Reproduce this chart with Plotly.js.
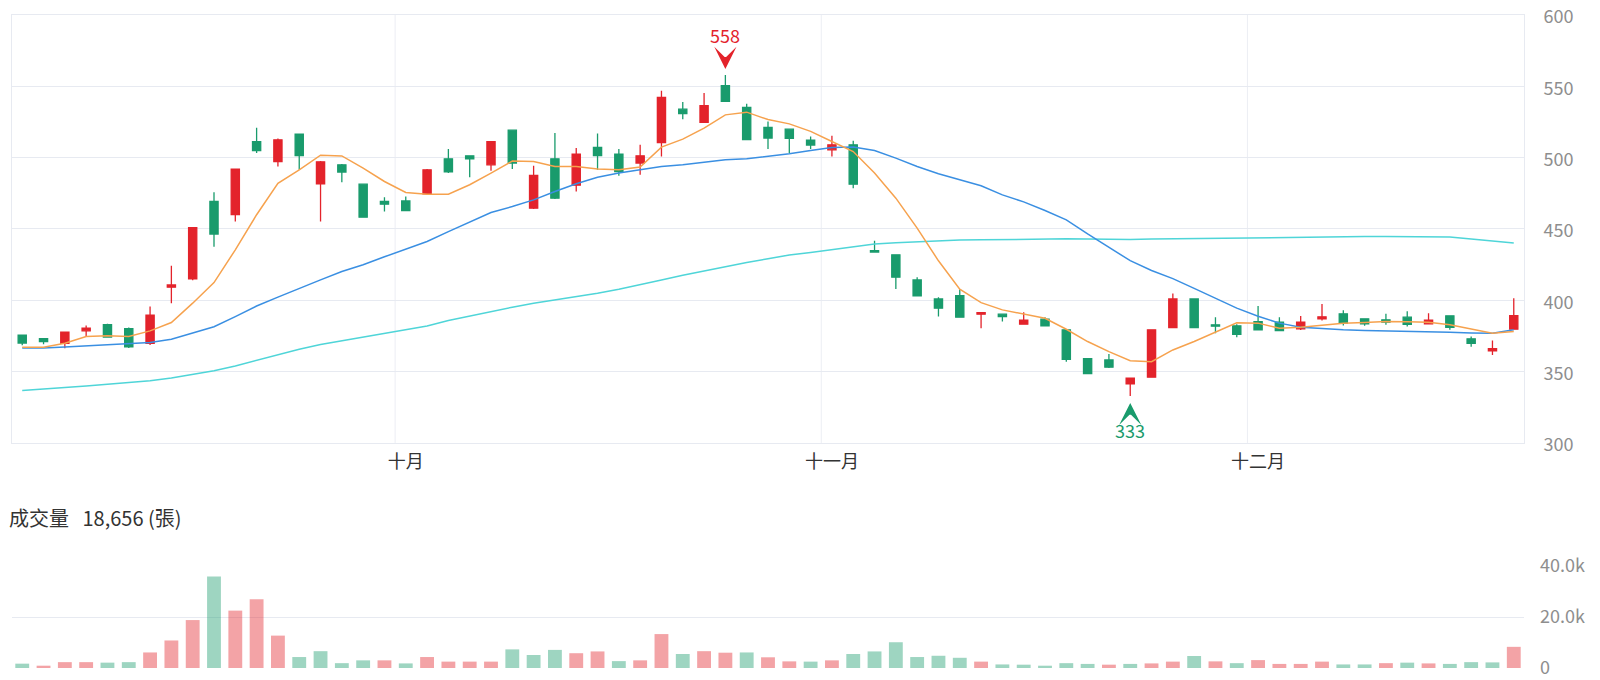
<!DOCTYPE html>
<html><head><meta charset="utf-8">
<script src="https://cdn.plot.ly/plotly-3.0.1.min.js"></script>
<style>html,body{margin:0;padding:0;background:#fff}#chart{width:1600px;height:680px}</style>
</head><body><div id="chart"></div>
<script>
// ---- data ----
const openP  = [375.5,373.2,369.9,378.6,383,380.2,369.9,409.2,415,469.3,460,511.3,497.3,516.5,481.7,495,481.4,469.3,469.7,474.7,499.2,501.3,495,519.3,464.6,499.2,480.7,507.2,502.5,496.2,510.6,534,524.7,550.4,535.2,521.2,520,512.3,505.5,509,434.9,431.9,414.3,401,403.3,390.3,390.3,383.3,386.8,379.3,359.1,358.2,341.4,346.1,380.9,401,382.8,382.1,385.1,384.7,380,387,390.5,387,386.3,388.2,383.5,389.1,373,364.5,379.8];
const highP  = [376,373.5,378,382.3,383.5,381,395.6,424.2,451.2,475.8,492.3,521,513.4,517,497.6,495.5,481.8,472.3,472.8,492,506,501.5,511.5,519.8,494.3,517.2,506.7,517,506,509,546.9,539,545.3,558,537.8,525.4,520.5,514.8,515.3,511.8,441.7,432.3,416.2,402.2,407.8,391.5,390.5,391.7,388.2,379.5,359.3,362.4,345.6,379.5,404.7,401.2,388.2,383.2,396.1,388.2,389,397.5,393.1,387.3,390.5,392.4,391,389.3,374.6,371.8,401.5];
const lowP   = [368.5,369.2,366.4,374.6,374,366.5,368.7,398,414,437.5,455.2,503.2,493.8,491.5,455.2,482.8,457.8,462.2,462.5,474,489.2,486.3,490.8,492,464,471,476.3,491.5,487.3,488,500.8,527,524.5,539,512.5,506,503.2,506,500.8,478.6,433.8,408,403,388.6,388,380.4,385.1,383,382,357,348.4,352.5,333,345.8,380.7,380.7,377,374.1,379,378.5,379.2,385.8,382.3,382.1,382.8,381.6,383.3,379.3,367.5,361.7,379.5];
const closeP = [370,371.1,377.7,380.5,374.3,367.3,389.6,410.8,451,446.4,492,505,512.5,501.5,497.1,489.9,458.3,467.4,462.9,491.5,490.1,499.2,511.3,496.2,487.5,471.6,502.5,501.5,490.3,501.3,542.2,530.8,536.4,539.4,512.7,513.7,513.5,508.8,509,481.4,433.8,416.2,403.1,394.5,388.2,391.4,388.6,386.1,382.1,358.7,348.6,353.1,345.4,379.3,401,380.9,381.9,376.2,379.3,378.8,384.7,388.4,384,383.5,384.7,383.2,386.1,381.1,369.9,366.1,389.3];
const ma5  = [367.1,367.1,369.9,374.6,375.1,374.6,378.6,384.4,398,412.4,435.4,460,482,491.5,501.7,501.2,492.7,483.3,475.6,474.4,474.4,481,489.2,497.6,497.3,493.8,493.8,492,491.5,493.4,507.4,513,520.7,530,531.9,526.7,523.7,518.4,511.3,504.3,489.2,471.6,450.6,427.7,407.8,398.4,393.3,390.4,387.4,379.7,371.1,364,357.7,357,365.2,371.1,377.5,384.2,384,380.5,381.2,382.8,384,384.4,385.1,384.9,384.7,382.8,380,376.9,378.1];
const ma20 = [366.6,366.6,367.3,368,368.7,369.4,370.4,372.7,376.9,381.5,388.6,396,402.2,408.5,414.3,420.2,424.9,430.5,436,441.2,448.2,454.8,461.5,465.7,470.4,476.3,481.7,486.3,489.2,491.5,493.8,495,496.6,498.5,499.2,500.8,502.7,505,507.2,507.4,505,499.7,493.8,488.7,484.5,480.3,473.9,469,463,456.4,446.5,437.4,427.8,420.9,415.2,408.4,401.5,394.5,388.8,384,381.2,380,379.3,378.8,378.6,378.3,378.1,377.6,377.1,376.9,379.3];
const ma60 = [336.7,337.6,338.8,340,341.2,342.3,343.7,345.6,347.9,350.7,354,357.9,362.2,365.7,369,371.5,374.1,376.9,379.3,382,385.8,389.1,392.1,395.2,398,400.3,402.6,405,407.8,410.8,414.3,417.6,420.6,423.7,426.5,429.1,431.7,433.5,435.4,437.7,439.4,440.3,441,441.7,442.2,442.4,442.6,442.9,443.1,443.1,442.9,442.6,442.6,442.9,443.1,443.3,443.6,443.8,443.9,444.3,444.3,444.5,444.7,444.7,444.7,444.7,444.6,444.4,443,441.6,440.1];
const volume = [1700,900,2300,2300,2100,2300,6100,10800,18800,35900,22500,27000,12700,4300,6600,1900,3000,3000,1800,4300,2500,2500,2500,7300,5100,7100,5800,6500,2700,3000,13300,5500,6600,6000,6100,4200,2600,2500,3000,5500,6500,10100,4300,4800,4000,2500,1400,1300,900,1900,1600,1300,1600,1800,2500,4700,2600,1900,3100,1600,1600,2500,1400,1400,1900,2100,1800,1600,2300,2200,8300];
const volUp = [0,1,1,1,0,0,1,1,1,0,1,1,1,0,0,0,0,1,0,1,1,1,1,0,0,0,1,1,0,1,1,0,1,1,0,1,1,0,1,0,0,0,0,0,0,1,0,0,0,0,0,1,0,1,1,0,1,0,1,1,1,1,0,0,1,0,1,0,0,0,1];
const monthStarts = [18, 38, 58];
const monthLabels = ['十月', '十一月', '十二月'];
const priceTicks = [300, 350, 400, 450, 500, 550, 600];
const volTickVals = [0, 20000, 40000];
const volTickText = ['0', '20.0k', '40.0k'];
const volumeTitle = '成交量';
const volumeValue = '18,656 (張)';

// ---- styles ----
const RED = '#e3232b', GREEN = '#199b6c';
const RED_L = 'rgba(227,35,43,0.42)', GREEN_L = 'rgba(25,155,108,0.42)';
const ORANGE = '#f6a24e', BLUE = '#3a8fe2', CYAN = '#4fd5d8';
const GRID = '#e7eaf1';
const FONT = '"Noto Sans CJK TC", "Noto Sans", sans-serif';

const idx = openP.map((_, i) => i);
const hMax = Math.max(...highP), iMax = highP.indexOf(hMax);
const lMin = Math.min(...lowP), iMin = lowP.indexOf(lMin);

const traces = [
  {type: 'scatter', mode: 'lines', x: idx, y: ma60, line: {color: CYAN, width: 1.5}, hoverinfo: 'skip', xaxis: 'x', yaxis: 'y'},
  {type: 'scatter', mode: 'lines', x: idx, y: ma20, line: {color: BLUE, width: 1.5}, hoverinfo: 'skip', xaxis: 'x', yaxis: 'y'},
  {type: 'scatter', mode: 'lines', x: idx, y: ma5, line: {color: ORANGE, width: 1.5}, hoverinfo: 'skip', xaxis: 'x', yaxis: 'y'},
  {type: 'candlestick', x: idx, open: openP, high: highP, low: lowP, close: closeP,
   increasing: {line: {color: RED, width: 1.3}, fillcolor: RED},
   decreasing: {line: {color: GREEN, width: 1.3}, fillcolor: GREEN},
   whiskerwidth: 0, hoverinfo: 'skip', xaxis: 'x', yaxis: 'y'},
  {type: 'bar', x: idx, y: volume, marker: {color: volUp.map(u => u ? RED_L : GREEN_L), line: {width: 0}},
   hoverinfo: 'skip', xaxis: 'x2', yaxis: 'y2'}
];

const xr = [-0.48, idx.length - 1 + 0.48];
const layout = {
  width: 1600, height: 680,
  margin: {l: 12, r: 76, t: 15, b: 12},
  paper_bgcolor: '#fff', plot_bgcolor: '#fff',
  showlegend: false,
  font: {family: FONT, size: 18, color: '#333'},
  boxgap: 0.45, bargap: 0.35,
  xaxis: {anchor: 'y', domain: [0, 1], range: xr, rangeslider: {visible: false},
    tickmode: 'array', tickvals: monthStarts, ticktext: monthLabels, ticks: '',
    showgrid: false, zeroline: false, showline: true, mirror: true, linecolor: GRID, linewidth: 1,
    tickfont: {size: 18, color: '#333', family: FONT}, ticklabelstandoff: 2, fixedrange: true},
  yaxis: {anchor: 'x', domain: [0.3446, 1], range: [300, 600], side: 'right',
    tickmode: 'array', tickvals: priceTicks, ticks: '',
    showgrid: true, gridcolor: GRID, zeroline: false, showline: true, mirror: true, linecolor: GRID, linewidth: 1,
    tickfont: {size: 18, color: '#8e8e8e', family: FONT}, ticklabelstandoff: 15, ticklabelshift: 2, fixedrange: true},
  xaxis2: {anchor: 'y2', domain: [0, 1], range: xr, matches: 'x', showticklabels: false,
    showgrid: false, zeroline: false, showline: false, ticks: '', fixedrange: true},
  yaxis2: {anchor: 'x2', domain: [0, 0.1562], range: [0, 40000], side: 'right',
    tickmode: 'array', tickvals: volTickVals, ticktext: volTickText, ticks: '',
    showgrid: true, gridcolor: GRID, zeroline: false, showline: false,
    tickfont: {size: 18, color: '#8e8e8e', family: FONT}, ticklabelstandoff: 15, fixedrange: true},
  shapes: monthStarts.map(m => ({type: 'line', xref: 'x', yref: 'y domain', x0: m - 0.5, x1: m - 0.5, y0: 0, y1: 1,
    line: {color: '#eceef4', width: 1}, layer: 'below'})),
  annotations: [
    {xref: 'x', yref: 'y', x: iMax, y: hMax, text: String(hMax), showarrow: false, yshift: 40,
     font: {size: 18, color: RED, family: FONT}},
    {xref: 'x', yref: 'y', x: iMax, y: hMax, text: '', showarrow: true, arrowhead: 3, arrowsize: 1.85, arrowwidth: 2,
     arrowcolor: RED, ax: 0, ay: -15, standoff: 6},
    {xref: 'x', yref: 'y', x: iMin, y: lMin, text: String(lMin), showarrow: false, yshift: -34,
     font: {size: 18, color: GREEN, family: FONT}},
    {xref: 'x', yref: 'y', x: iMin, y: lMin, text: '', showarrow: true, arrowhead: 3, arrowsize: 1.85, arrowwidth: 2,
     arrowcolor: GREEN, ax: 0, ay: 16, standoff: 7},
    {xref: 'paper', yref: 'paper', x: -0.003, y: 0.2305, xanchor: 'left', yanchor: 'middle', showarrow: false,
     text: volumeTitle + '\u00a0\u00a0\u00a0' + volumeValue, font: {size: 20, color: '#333', family: FONT}}
  ]
};

Plotly.newPlot('chart', traces, layout, {displayModeBar: false, staticPlot: true});
</script>
</body></html>
